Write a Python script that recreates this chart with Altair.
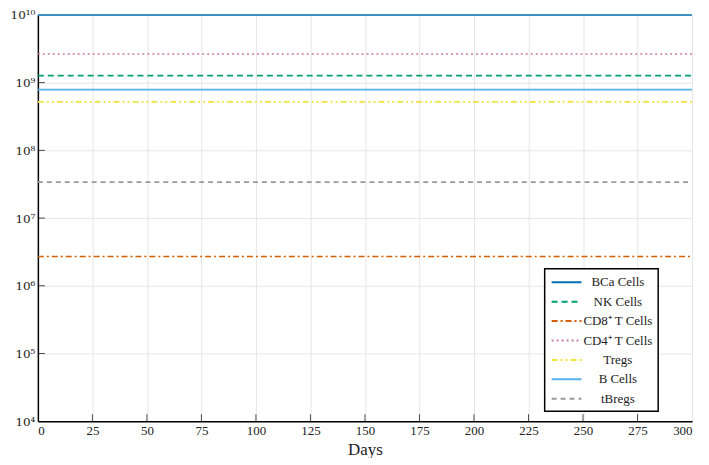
import altair as alt
import pandas as pd

series = ["BCa Cells", "NK Cells", "CD8⁺ T Cells", "CD4⁺ T Cells", "Tregs", "B Cells", "tBregs"]
values = [1.0e10, 1.27e9, 2.7e6, 2.65e9, 5.2e8, 7.9e8, 3.4e7]
days = [0, 300]
colors = ["#0072B2", "#009E73", "#D55E00", "#CC79A7", "#F0E442", "#56B4E9", "#999999"]
dashes = [[1, 0], [6, 4], [6, 3, 2, 3], [2, 3], [6, 3, 2, 3, 2, 3], [1, 0], [5, 4]]
x_ticks = list(range(0, 301, 25))
y_ticks = [1e4, 1e5, 1e6, 1e7, 1e8, 1e9, 1e10]

rows = []
for s, v in zip(series, values):
    for d in days:
        rows.append({"series": s, "day": d, "value": v})
df = pd.DataFrame(rows)

FONT = "Liberation Serif"
SUPFONT = "DejaVu Serif"

xscale = alt.Scale(domain=[0, 300], nice=False, zero=False)
yscale = alt.Scale(type="log", domain=[1e4, 1e10], nice=False)

sup = "['⁰','¹','²','³','⁴','⁵','⁶','⁷','⁸','⁹','¹⁰'][round(log(datum.value)/LN10)]"

lines = alt.Chart(df).mark_line(strokeWidth=1.6).encode(
    x=alt.X("day:Q", scale=xscale,
            axis=alt.Axis(values=x_ticks, title="Days", grid=True, tickSize=0,
                          labelPadding=3, titlePadding=4)),
    y=alt.Y("value:Q", scale=yscale,
            axis=alt.Axis(values=y_ticks, title=None, grid=True, tickSize=0,
                          labelExpr="'10' + " + sup, labelPadding=3,
                          labelFont=SUPFONT, labelFontSize=12)),
    color=alt.Color("series:N", scale=alt.Scale(domain=series, range=colors),
                    sort=series,
                    legend=alt.Legend(title=None, orient="none", legendX=509, legendY=255,
                                      strokeColor="black", fillColor="white",
                                      padding=5,
                                      symbolType="M-2,0H2", symbolSize=225, symbolStrokeWidth=2,
                                      symbolOffset=8.5,
                                      labelFont=FONT, labelFontSize=13, rowPadding=3.5,
                                      labelAlign="center", labelOffset=43,
                                      labelColor="#222", labelLimit=200)),
    strokeDash=alt.StrokeDash("series:N", scale=alt.Scale(domain=series, range=dashes),
                              sort=series, legend=None),
)

xt = alt.Chart(pd.DataFrame({"t": x_ticks[1:-1], "v": [1e4] * (len(x_ticks) - 2)})).mark_tick(
    orient="vertical", size=7, thickness=1, color="black", yOffset=-3.5
).encode(x=alt.X("t:Q", scale=xscale), y=alt.Y("v:Q", scale=yscale))

yt = alt.Chart(pd.DataFrame({"v": y_ticks[1:-1], "t": [0] * (len(y_ticks) - 2)})).mark_tick(
    orient="horizontal", size=7, thickness=1, color="black", xOffset=3.5
).encode(x=alt.X("t:Q", scale=xscale), y=alt.Y("v:Q", scale=yscale))

chart = alt.layer(lines, xt, yt).properties(
    width=657, height=408, padding={"left": 2, "top": 0, "right": 5, "bottom": 0}
).configure_view(stroke=None).configure_axis(
    domainColor="black", domainWidth=1.5, gridColor="#e6e6e6", gridWidth=1,
    labelFont=FONT, labelFontSize=13, labelColor="#222",
    titleFont=FONT, titleFontSize=17, titleFontWeight="normal", titleColor="#222"
).configure_legend(strokeWidth=1.5)

chart.save("out.html", embed_options={"renderer": "svg", "actions": False})
